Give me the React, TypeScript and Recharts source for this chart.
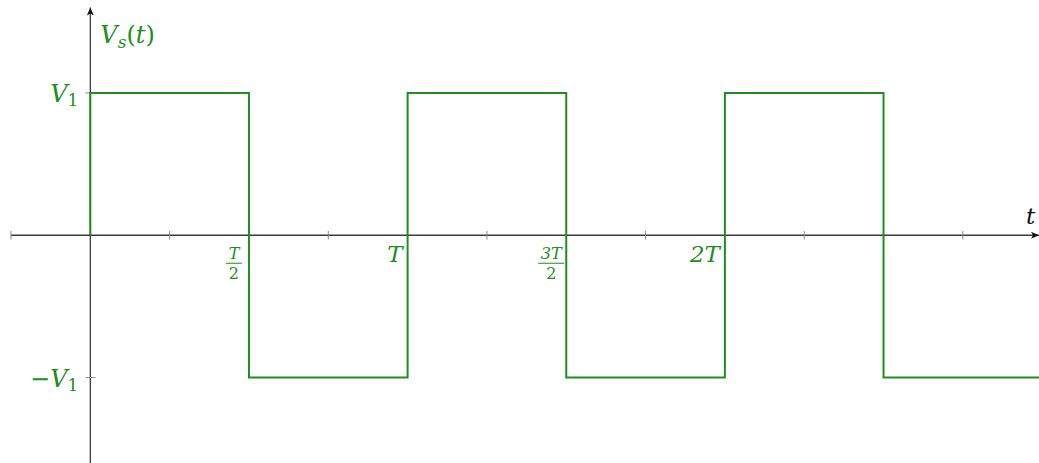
import React from 'react';
import { LineChart, Line, XAxis, YAxis, ReferenceLine, ReferenceDot } from 'recharts';

// square wave corners, t in units of T, v in units of V1
const times = [0, 0, 0.5, 0.5, 1, 1, 1.5, 1.5, 2, 2, 2.5, 2.5, 2.99];
const volts = [0, 1, 1, -1, -1, 1, 1, -1, -1, 1, 1, -1, -1];

// small axis ticks
const minorTicks = [-0.25, 0.25, 0.75, 1.25, 1.75, 2.25, 2.75];
const levelTicks = [1, -1];

// labels on the t axis
const tLabels = [
  { t: 0.5, num: 'T', den: '2' },
  { t: 1, text: 'T' },
  { t: 1.5, num: '3T', den: '2' },
  { t: 2, text: '2T' },
];

const data = times.map((t, i) => ({ t, v: volts[i] }));

const GREEN = '#228b22';
const AXIS = '#3a3a3a';
const FONT = 'DejaVu Serif';

const TLabel = (props: any) => {
  const { cx, cy, item } = props;
  if (item.text) {
    return (
      <text x={cx - 5} y={cy + 27} textAnchor="end" fill={GREEN} fontFamily={FONT} fontStyle="italic" fontSize={23}>
        {item.text}
      </text>
    );
  }
  const mid = cx - 15;
  const half = item.num.length > 1 ? 13 : 8;
  return (
    <g fill={GREEN}>
      <text x={mid} y={cy + 24} textAnchor="middle" fontFamily={FONT} fontSize={16} fontStyle="italic">{item.num}</text>
      <line x1={mid - half} x2={mid + half} y1={cy + 28} y2={cy + 28} stroke={GREEN} strokeWidth={1} />
      <text x={mid} y={cy + 44} textAnchor="middle" fontFamily={FONT} fontSize={16}>{item.den}</text>
    </g>
  );
};

const ArrowUp = (props: any) => {
  const { cx, cy } = props;
  return <path d={`M${cx},${cy} L${cx - 3.5},${cy + 8} L${cx},${cy + 6} L${cx + 3.5},${cy + 8} Z`} fill="#111" />;
};

const ArrowRight = (props: any) => {
  const { cx, cy } = props;
  return <path d={`M${cx},${cy} L${cx - 8},${cy - 3.5} L${cx - 6},${cy} L${cx - 8},${cy + 3.5} Z`} fill="#111" />;
};

const LevelLabel = (props: any) => {
  const { cx, cy, neg } = props;
  return (
    <text x={cx - 12} y={cy + 9} textAnchor="end" fill={GREEN} fontFamily={FONT} fontSize={24}>
      {neg ? '\u2212' : ''}
      <tspan fontStyle="italic">V</tspan>
      <tspan fontSize={17} dy={4}>1</tspan>
    </text>
  );
};

export default function App() {
  return (
    <div style={{ position: 'absolute', left: 0, top: 0, background: '#fff', fontFamily: FONT }}>
      <LineChart width={1039} height={463} data={data} margin={{ top: 7.5, right: 0, bottom: 0, left: 11 }}>
        <XAxis type="number" dataKey="t" domain={[-0.25, 2.99]} hide allowDataOverflow />
        <YAxis type="number" domain={[-1.6, 1.6]} hide allowDataOverflow />

        <ReferenceLine y={0} stroke={AXIS} strokeWidth={1.3} />
        <ReferenceLine x={0} stroke={AXIS} strokeWidth={1.3} />
        {minorTicks.map((t) => (
          <ReferenceLine key={'mt' + t} segment={[{ x: t, y: -0.03 }, { x: t, y: 0.03 }]} stroke="#888" strokeWidth={1} />
        ))}
        {levelTicks.map((v) => (
          <ReferenceLine key={'lt' + v} segment={[{ x: -0.016, y: v }, { x: 0.016, y: v }]} stroke="#888" strokeWidth={1} />
        ))}

        <Line
          type="linear"
          dataKey="v"
          stroke={GREEN}
          strokeWidth={2}
          dot={false}
          isAnimationActive={false}
        />

        <ReferenceDot x={0} y={1.6} r={0} shape={ArrowUp} />
        <ReferenceDot x={2.99} y={0} r={0} shape={ArrowRight} />

        {levelTicks.map((v) => (
          <ReferenceDot key={'ll' + v} x={0} y={v} r={0} shape={(p: any) => <LevelLabel {...p} neg={v < 0} />} />
        ))}
        {tLabels.map((item) => (
          <ReferenceDot key={'tl' + item.t} x={item.t} y={0} r={0} shape={(p: any) => <TLabel {...p} item={item} />} />
        ))}

        <ReferenceDot
          x={0}
          y={1.6}
          r={0}
          shape={(p: any) => (
            <text x={p.cx + 10} y={p.cy + 35} fill={GREEN} fontFamily={FONT} fontSize={24}>
              <tspan fontStyle="italic">V</tspan>
              <tspan fontStyle="italic" fontSize={17} dy={5}>s</tspan>
              <tspan dy={-5}>(</tspan>
              <tspan fontStyle="italic">t</tspan>
              <tspan>)</tspan>
            </text>
          )}
        />
        <ReferenceDot
          x={2.99}
          y={0}
          r={0}
          shape={(p: any) => (
            <text x={p.cx - 13} y={p.cy - 11} fill="#111" fontFamily={FONT} fontStyle="italic" fontSize={23}>
              t
            </text>
          )}
        />
      </LineChart>
    </div>
  );
}
